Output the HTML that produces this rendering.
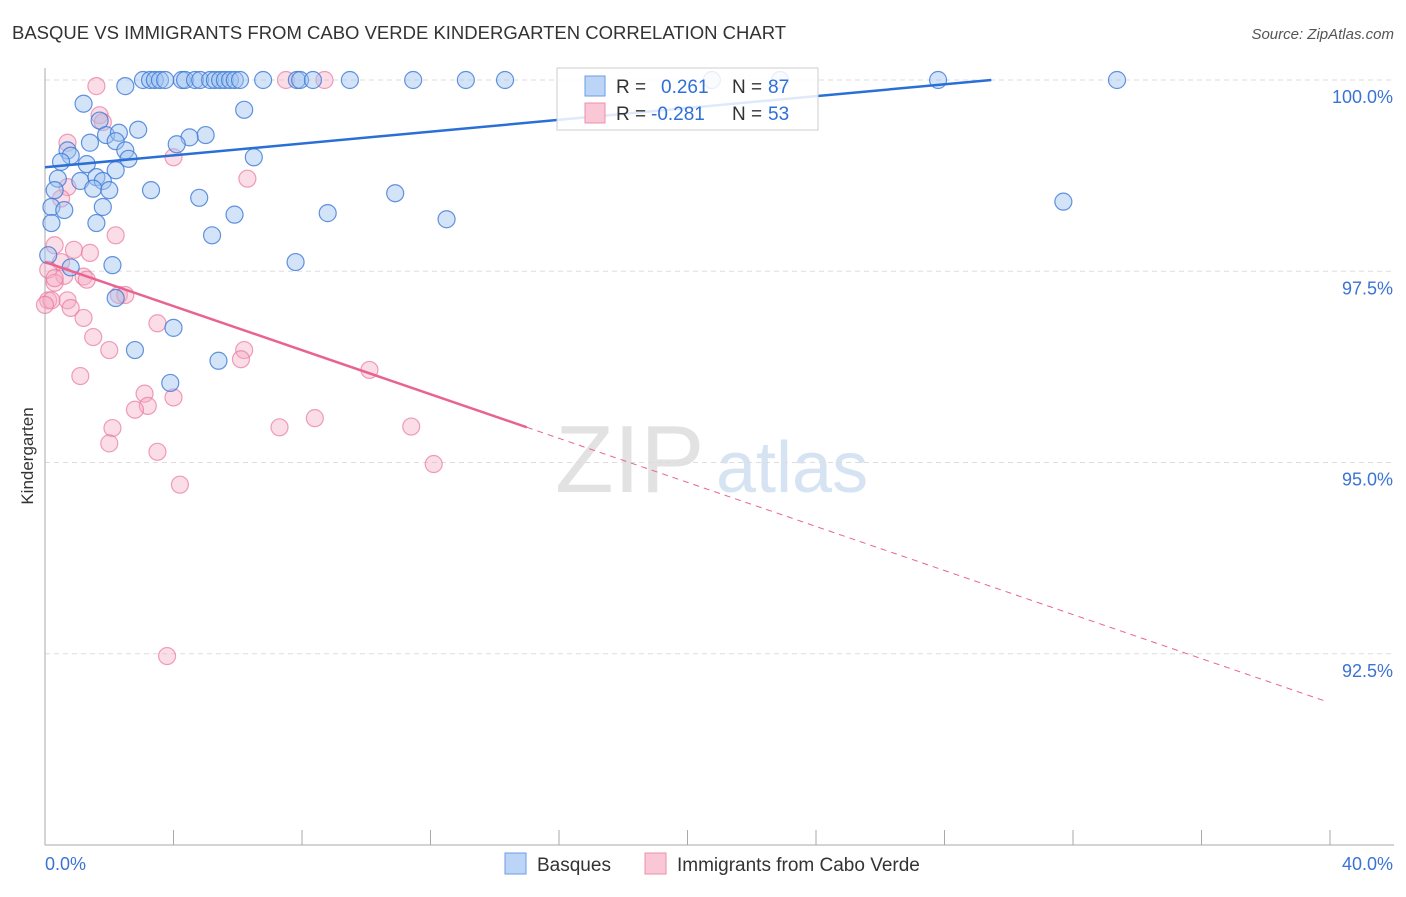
<!DOCTYPE html>
<html><head><meta charset="utf-8"><style>
body{margin:0;background:#fff;font-family:"Liberation Sans",sans-serif;}
svg text{font-family:"Liberation Sans",sans-serif;}
</style></head><body>
<svg id="c" width="1406" height="892">
<text x="12" y="39" font-size="18.5" fill="#333">BASQUE VS IMMIGRANTS FROM CABO VERDE KINDERGARTEN CORRELATION CHART</text>
<text x="1394" y="39" font-size="15" fill="#555" font-style="italic" text-anchor="end">Source: ZipAtlas.com</text>
<text x="33" y="456" font-size="17" fill="#333" transform="rotate(-90 33 456)" text-anchor="middle">Kindergarten</text>
<text x="555" y="492" font-size="96" fill="#e2e2e2" font-family="Liberation Serif">ZIP</text>
<text x="716" y="492" font-size="72" fill="#d5e3f3">atlas</text>
<g id="grid"></g><g id="pts"></g><g id="lines"></g>
<g>
<rect x="557" y="68" width="261" height="62" fill="rgba(255,255,255,0.85)" stroke="#ccc"/>
<rect x="585" y="76" width="20" height="20" fill="#bcd4f5" stroke="#6a9ee6"/>
<text x="616" y="93" font-size="19" fill="#333">R = </text><text x="661" y="93" font-size="19" fill="#2e6fd8">0.261</text>
<text x="732" y="93" font-size="19" fill="#333">N = </text><text x="768" y="93" font-size="19" fill="#2e6fd8">87</text>
<rect x="585" y="103" width="20" height="20" fill="#f9c7d6" stroke="#ec8fac"/>
<text x="616" y="120" font-size="19" fill="#333">R = </text><text x="651" y="120" font-size="19" fill="#2e6fd8">-0.281</text>
<text x="732" y="120" font-size="19" fill="#333">N = </text><text x="768" y="120" font-size="19" fill="#2e6fd8">53</text>
</g>
<g>
<rect x="505" y="853" width="21" height="21" fill="#bcd4f5" stroke="#6a9ee6"/>
<text x="537" y="871" font-size="19" fill="#333">Basques</text>
<rect x="645" y="853" width="21" height="21" fill="#f9c7d6" stroke="#ec8fac"/>
<text x="677" y="871" font-size="19" fill="#333">Immigrants from Cabo Verde</text>
</g>
</svg>
<script>
const yTicks=[100,97.5,95,92.5];
const yTickLabels=["100.0%","97.5%","95.0%","92.5%"];
const blueX=[3.05,3.27,3.42,3.58,3.74,4.26,4.36,4.67,4.83,5.14,5.29,5.45,5.6,5.76,5.91,6.07,6.79,7.84,7.94,8.34,9.49,11.46,13.1,14.32,20.76,22.88,27.8,33.37,2.5,1.2,6.2,1.7,2.9,1.9,2.3,5,4.5,1.4,2.2,4.1,0.7,2.5,0.8,0.5,2.6,1.3,6.5,0.4,1.1,2.2,1.6,1.8,1.5,0.3,3.3,2,10.9,4.8,8.8,5.9,0.2,0.6,1.8,12.5,31.7,1.6,5.2,0.2,2.1,7.8,0.8,2.2,4,2.8,5.4,3.9,0.1];
const blueY=[100,100,100,100,100,100,100,100,100,100,100,100,100,100,100,100,100,100,100,100,100,100,100,100,100,100,100,100,99.92,99.69,99.61,99.47,99.35,99.28,99.31,99.28,99.25,99.18,99.2,99.16,99.08,99.08,99.01,98.93,98.97,98.9,98.99,98.71,98.68,98.82,98.73,98.68,98.58,98.56,98.56,98.56,98.52,98.46,98.26,98.24,98.34,98.3,98.34,98.18,98.41,98.13,97.97,98.13,97.58,97.62,97.55,97.15,96.76,96.47,96.33,96.04,97.71];
const pinkX=[1.6,7.5,8.7,0.7,1.7,1.8,4,6.3,0.7,0.5,2.2,0.3,0.9,1.4,0.5,0.1,0.6,1.2,0.3,2.3,2.5,0.1,0.7,0.8,1.2,1.5,2,3.5,6.2,6.1,1.1,10.1,3.1,4,3.2,2.8,2.1,7.3,8.4,11.4,2,3.5,12.1,4.2,3.8,0.2,0.3,1.3,0];
const pinkY=[99.92,100,100,99.18,99.54,99.45,98.99,98.71,98.6,98.45,97.97,97.84,97.78,97.74,97.62,97.52,97.44,97.43,97.35,97.19,97.19,97.12,97.12,97.02,96.89,96.64,96.47,96.82,96.47,96.35,96.13,96.21,95.9,95.85,95.74,95.69,95.45,95.46,95.58,95.47,95.25,95.14,94.98,94.71,92.47,97.12,97.41,97.39,97.06];
const blueFit=[98.86,0.0387];
const pinkFit=[97.62,-0.144];
const X0=45,X1=1330,Yt=80;
const xs=v=>X0+(v/40)*(X1-X0);
const ys=v=>Yt+(100-v)*76.5;
const NS="http://www.w3.org/2000/svg";
function mk(t,a,p){const e=document.createElementNS(NS,t);for(const k in a)e.setAttribute(k,a[k]);p.appendChild(e);return e;}
const grid=document.getElementById('grid');
yTicks.forEach((t,i)=>{
 const l=mk('line',{x1:X0,x2:1394,y1:ys(t),y2:ys(t),stroke:'#ddd','stroke-dasharray':'5,4'},grid);
 
 
 const tx=mk('text',{x:1393,y:ys(t)+23,'font-size':18,fill:'#3b73d4','text-anchor':'end'},grid);
 tx.textContent=yTickLabels[i];
 
 
});
const ax=mk('line',{x1:X0,x2:X0,y1:68,y2:845,stroke:'#aaa'},grid);


const bx=mk('line',{x1:X0,x2:1394,y1:845,y2:845,stroke:'#aaa'},grid);


for(let i=0;i<=10;i++){const x=X0+i*128.5;const t=mk('line',{x1:x,x2:x,y1:830,y2:845,stroke:'#aaa'},grid);
 
 }
const xl=mk('text',{x:45,y:870,'font-size':18,fill:'#3b73d4'},grid);xl.textContent='0.0%';


const xr=mk('text',{x:1393,y:870,'font-size':18,fill:'#3b73d4','text-anchor':'end'},grid);xr.textContent='40.0%';


const pts=document.getElementById('pts');
pinkX.forEach((x,i)=>{const c=mk('circle',{cx:xs(x),cy:ys(pinkY[i]),r:8.5,fill:'rgba(246,170,195,0.4)',stroke:'rgba(232,120,155,0.7)','stroke-width':1.2},pts);
 
 });
blueX.forEach((x,i)=>{const c=mk('circle',{cx:xs(x),cy:ys(blueY[i]),r:8.5,fill:'rgba(160,195,240,0.45)',stroke:'rgba(60,120,215,0.8)','stroke-width':1.2},pts);
 
 });
const ln=document.getElementById('lines');
const bEnd=(100-blueFit[0])/blueFit[1];
const b=mk('line',{x1:xs(0),y1:ys(blueFit[0]),x2:xs(bEnd),y2:ys(100),stroke:'#2a6fd6','stroke-width':2.5},ln);


const p1=mk('line',{x1:xs(0),y1:ys(pinkFit[0]),x2:xs(15),y2:ys(pinkFit[0]+pinkFit[1]*15),stroke:'#e8648f','stroke-width':2.5},ln);


const p2=mk('line',{x1:xs(15),y1:ys(pinkFit[0]+pinkFit[1]*15),x2:xs(39.9),y2:ys(pinkFit[0]+pinkFit[1]*39.9),stroke:'#e8648f','stroke-width':1,'stroke-dasharray':'6,5'},ln);


</script>
</body></html>
